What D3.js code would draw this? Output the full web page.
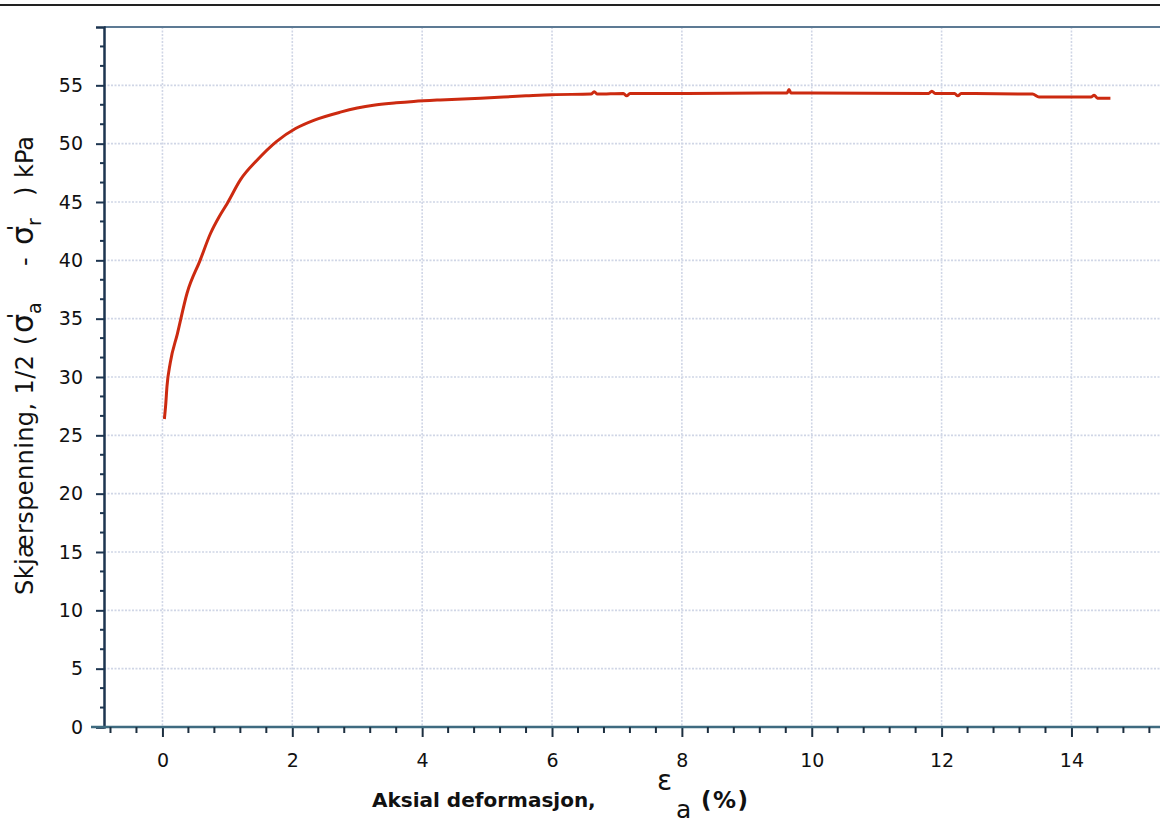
<!DOCTYPE html>
<html>
<head>
<meta charset="utf-8">
<script src="https://cdn.jsdelivr.net/npm/d3@7"></script>
<style>
  html, body { margin: 0; padding: 0; background: #fff; }
  svg { display: block; }
  text { font-family: "DejaVu Sans", Verdana, sans-serif; fill: #111; }
</style>
</head>
<body>
<svg id="chart" width="1160" height="832"></svg>
<script>
// ---- data ----
const strain = [0.03, 0.05, 0.07, 0.12, 0.23, 0.38, 0.58, 0.74, 0.88, 1.0, 1.2, 1.46, 1.76, 2.05, 2.33, 2.74, 3.0, 3.25, 3.6, 3.87, 4.28, 4.9, 5.6, 6.0, 6.6, 6.65, 6.7, 7.1, 7.15, 7.2, 8.0, 9.4, 9.62, 9.65, 9.68, 10.0, 11.8, 11.85, 11.9, 12.2, 12.25, 12.3, 13.4, 13.5, 14.3, 14.35, 14.4, 14.6];
const stress = [26.4, 27.6, 29.2, 31.2, 33.7, 37.2, 40.0, 42.3, 43.8, 44.9, 46.9, 48.6, 50.2, 51.3, 52.0, 52.7, 53.05, 53.3, 53.5, 53.62, 53.75, 53.9, 54.1, 54.2, 54.25, 54.45, 54.25, 54.3, 54.1, 54.3, 54.3, 54.35, 54.35, 54.65, 54.35, 54.35, 54.3, 54.5, 54.3, 54.3, 54.1, 54.3, 54.25, 54.0, 54.0, 54.15, 53.9, 53.9];
const xMajorTicks = [0, 2, 4, 6, 8, 10, 12, 14];
const yMajorTicks = [0, 5, 10, 15, 20, 25, 30, 35, 40, 45, 50, 55];
const xTitle = "Aksial deformasjon,";

// ---- layout ----
const svg = d3.select("#chart");
const plotLeft = 104, plotBottom = 727, plotTop = 27;
const x = d3.scaleLinear().domain([-0.9, 16.2]).range([plotLeft, plotLeft + 17.1 * 64.93]);
const y = d3.scaleLinear().domain([0, 60]).range([plotBottom, plotTop]);

// page border line at top
svg.append("line").attr("x1", 0).attr("x2", 1160).attr("y1", 5).attr("y2", 5)
  .attr("stroke", "#222").attr("stroke-width", 2);

// gridlines
const grid = svg.append("g");
grid.selectAll(".gx").data(xMajorTicks).join("line")
  .attr("x1", d => x(d)).attr("x2", d => x(d))
  .attr("y1", y(60)).attr("y2", y(0))
  .attr("stroke", "#d0d6e6").attr("stroke-width", 1.6).attr("stroke-dasharray", "2,1.5");
grid.selectAll(".gy").data(yMajorTicks.filter(d => d > 0)).join("line")
  .attr("x1", x(-0.9)).attr("x2", 1160)
  .attr("y1", d => y(d)).attr("y2", d => y(d))
  .attr("stroke", "#d0d6e6").attr("stroke-width", 1.6).attr("stroke-dasharray", "2,1.5");

// frame top
svg.append("line").attr("x1", plotLeft).attr("x2", 1160).attr("y1", y(60)).attr("y2", y(60))
  .attr("stroke", "#5d7a94").attr("stroke-width", 2);

// y axis
const yAxis = d3.axisLeft(y).tickValues(yMajorTicks).tickSize(8).tickPadding(13).tickFormat(d3.format("d"));
const gy = svg.append("g").attr("transform", `translate(${plotLeft},0)`).call(yAxis);
gy.select(".domain").attr("stroke", "#1d3550").attr("stroke-width", 2.5);
gy.selectAll(".tick line").attr("stroke", "#1d3550").attr("stroke-width", 2);
gy.selectAll(".tick text").attr("font-size", 19).attr("font-family", "DejaVu Sans").attr("fill", "#111");
const yMinor = d3.range(0, 61, 5 / 3).filter(v => Math.abs(v / 5 - Math.round(v / 5)) > 1e-6);
gy.selectAll(".minor").data(yMinor).join("line").attr("class", "minor")
  .attr("x1", -4).attr("x2", 0).attr("y1", d => y(d)).attr("y2", d => y(d))
  .attr("stroke", "#1d3550").attr("stroke-width", 2);

// x axis
const xAxis = d3.axisBottom(x).tickValues(xMajorTicks).tickSize(10).tickPadding(17).tickFormat(d3.format("d"));
const gx = svg.append("g").attr("transform", `translate(0,${plotBottom})`).call(xAxis);
gx.select(".domain").remove();
gx.append("line").attr("x1", plotLeft - 13).attr("x2", 1160).attr("y1", 0).attr("y2", 0)
  .attr("stroke", "#3f6b80").attr("stroke-width", 2.5);
gx.selectAll(".tick line").attr("stroke", "#1d2f40").attr("stroke-width", 2);
gx.selectAll(".tick text").attr("font-size", 19).attr("font-family", "DejaVu Sans").attr("fill", "#111");
const xMinor = d3.range(-0.8, 16.3, 0.4).filter(v => Math.abs(v / 2 - Math.round(v / 2)) > 1e-6);
gx.selectAll(".minor").data(xMinor).join("line").attr("class", "minor")
  .attr("x1", d => x(d)).attr("x2", d => x(d)).attr("y1", 0).attr("y2", 6)
  .attr("stroke", "#1d2f40").attr("stroke-width", 2);

// curve
const pts = strain.map((s, i) => [s, stress[i]]);
const line = d3.line().x(d => x(d[0])).y(d => y(d[1])).curve(d3.curveMonotoneX);
svg.append("path").datum(pts).attr("d", line)
  .attr("fill", "none").attr("stroke", "#cc2a10").attr("stroke-width", 3);

// x title
svg.append("text").attr("x", 372).attr("y", 807).attr("font-size", 20).attr("font-weight", "bold").text(xTitle);
svg.append("text").attr("x", 657).attr("y", 790).attr("font-size", 28).text("ε");
svg.append("text").attr("x", 676).attr("y", 818).attr("font-size", 25).text("a");
svg.append("text").attr("x", 701).attr("y", 808).attr("font-size", 23).attr("font-weight", "bold")
  .attr("letter-spacing", 1.5).text("(%)");

// y title (rotated), pieces placed along the axis
const yg = svg.append("g").attr("transform", "translate(33,0) rotate(-90)");
yg.append("text").attr("x", -595).attr("font-size", 24).attr("letter-spacing", 0.4).text("Skjærspenning, 1/2");
yg.append("text").attr("x", -345).attr("font-size", 24).text("(");
function sigma(xPos, sub) {
  const t = yg.append("text").attr("x", xPos).attr("font-size", 30);
  t.append("tspan").text("σ");
  t.append("tspan").attr("dx", -5).attr("dy", -10).attr("font-size", 22).text("'");
  t.append("tspan").attr("dx", -1).attr("dy", 18).attr("font-size", 19).text(sub);
}
sigma(-333, "a");
yg.append("text").attr("x", -266).attr("font-size", 24).text("-");
sigma(-245, "r");
yg.append("text").attr("x", -196).attr("font-size", 24).text(")");
yg.append("text").attr("x", -178).attr("font-size", 24).text("kPa");
</script>
</body>
</html>
